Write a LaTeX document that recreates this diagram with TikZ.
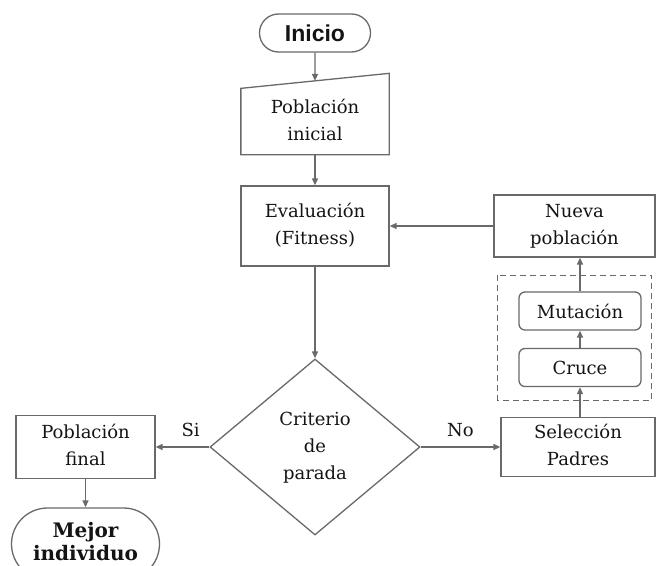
\documentclass[tikz,border=0pt]{standalone}
\usepackage{fontspec}
\setmainfont{DejaVu Serif}
\newfontfamily\inicfont{Liberation Sans}
\usepackage{tikz}
\usetikzlibrary{arrows.meta,shapes,positioning}
\definecolor{fcgray}{RGB}{105,105,105}
\definecolor{fctext}{RGB}{20,20,20}
\tikzstyle{arrow} = [line width=1.4pt,-{Triangle[length=7pt,width=6pt]},color=fcgray]
\tikzstyle{process} = [rectangle, minimum width=148pt, minimum height=80pt, text centered, draw=fcgray, line width=1.3pt, text=fctext, inner sep=0pt, font=\fontsize{18}{27}\selectfont]
\tikzstyle{terminal} = [rounded rectangle, minimum width=111pt, minimum height=38pt, text centered, draw=fcgray, line width=1.3pt, text=fctext, inner sep=0pt]
\tikzstyle{operator} = [rectangle, rounded corners=6pt, minimum width=122pt, minimum height=38pt, text centered, draw=fcgray, line width=1.3pt, text=fctext, inner sep=0pt, font=\fontsize{18}{27}\selectfont]

\begin{document}
\begin{tikzpicture}[x=1pt, y=1pt]
\useasboundingbox (0,0) rectangle (656,-565);

% Main column
\node (inicio) [terminal, font=\inicfont\bfseries\fontsize{23}{27}\selectfont] at (315,-33) {Inicio};
\node (pobini) [process, draw=none, below of=inicio, node distance=88.5pt, minimum width=147pt, minimum height=65pt] {
\begin{tabular}{c}
Población\\
inicial
\end{tabular}
};
\draw[fcgray, line width=1.3pt] (pobini.south west) -- (pobini.south east) -- ([yshift=15pt]pobini.north east) -- (pobini.north west) -- cycle;
\coordinate (pobtop) at ([yshift=7.5pt]pobini.north);
\node (eval) [process, below of=pobini, node distance=104.5pt] {
\begin{tabular}{c}
Evaluación\\
(Fitness)
\end{tabular}
};
\node (crit) [diamond, draw=fcgray, line width=1.3pt, text=fctext, below of=eval, node distance=221pt, minimum width=210pt, minimum height=176pt, inner sep=0pt, font=\fontsize{18}{27}\selectfont] {
\begin{tabular}{c}
Criterio\\
de\\
parada
\end{tabular}
};

% Left branch
\node (final) [process, left of=crit, node distance=229.5pt, minimum width=139pt, minimum height=63pt] {
\begin{tabular}{c}
Población\\
final
\end{tabular}
};
\node (mejor) [terminal, below of=final, node distance=97pt, minimum width=148pt, minimum height=72pt, font=\bfseries\fontsize{20}{23}\selectfont] {
\begin{tabular}{c}
Mejor\\
individuo
\end{tabular}
};

% Right branch
\node (selec) [process, right of=crit, node distance=263pt, minimum width=154pt, minimum height=59pt] {
\begin{tabular}{c}
Selección\\
Padres
\end{tabular}
};
\node (nueva) [process, right of=eval, node distance=259.5pt, minimum width=161pt, minimum height=62pt] {
\begin{tabular}{c}
Nueva\\
población
\end{tabular}
};
\node (cruce) [operator, above of=selec, node distance=79.5pt, xshift=2pt] {Cruce};
\node (mutac) [operator, above of=cruce, node distance=56.5pt] {Mutación};
\draw[fcgray, line width=1.1pt, dash pattern=on 6pt off 4pt] ([xshift=-21pt,yshift=16pt]mutac.north west) rectangle ([xshift=10pt,yshift=-13pt]cruce.south east);

% Connections
\draw[arrow] (inicio) -- (pobtop);
\draw[arrow] (pobini) -- (eval);
\draw[arrow] (eval) -- (crit);
\draw[arrow] (crit.west) -- node[pos=0.35, above=6pt, text=fctext, font=\fontsize{18}{20}\selectfont] {Si} (final);
\draw[arrow] (final) -- (mejor);
\draw[arrow] (crit.east) -- node[midway, above=6pt, text=fctext, font=\fontsize{18}{20}\selectfont] {No} (selec);
\draw[arrow] (cruce |- selec.north) -- (cruce);
\draw[arrow] (cruce) -- (mutac);
\draw[arrow] (mutac) -- (mutac |- nueva.south);
\draw[arrow] (nueva) -- (eval);
\end{tikzpicture}
\end{document}
